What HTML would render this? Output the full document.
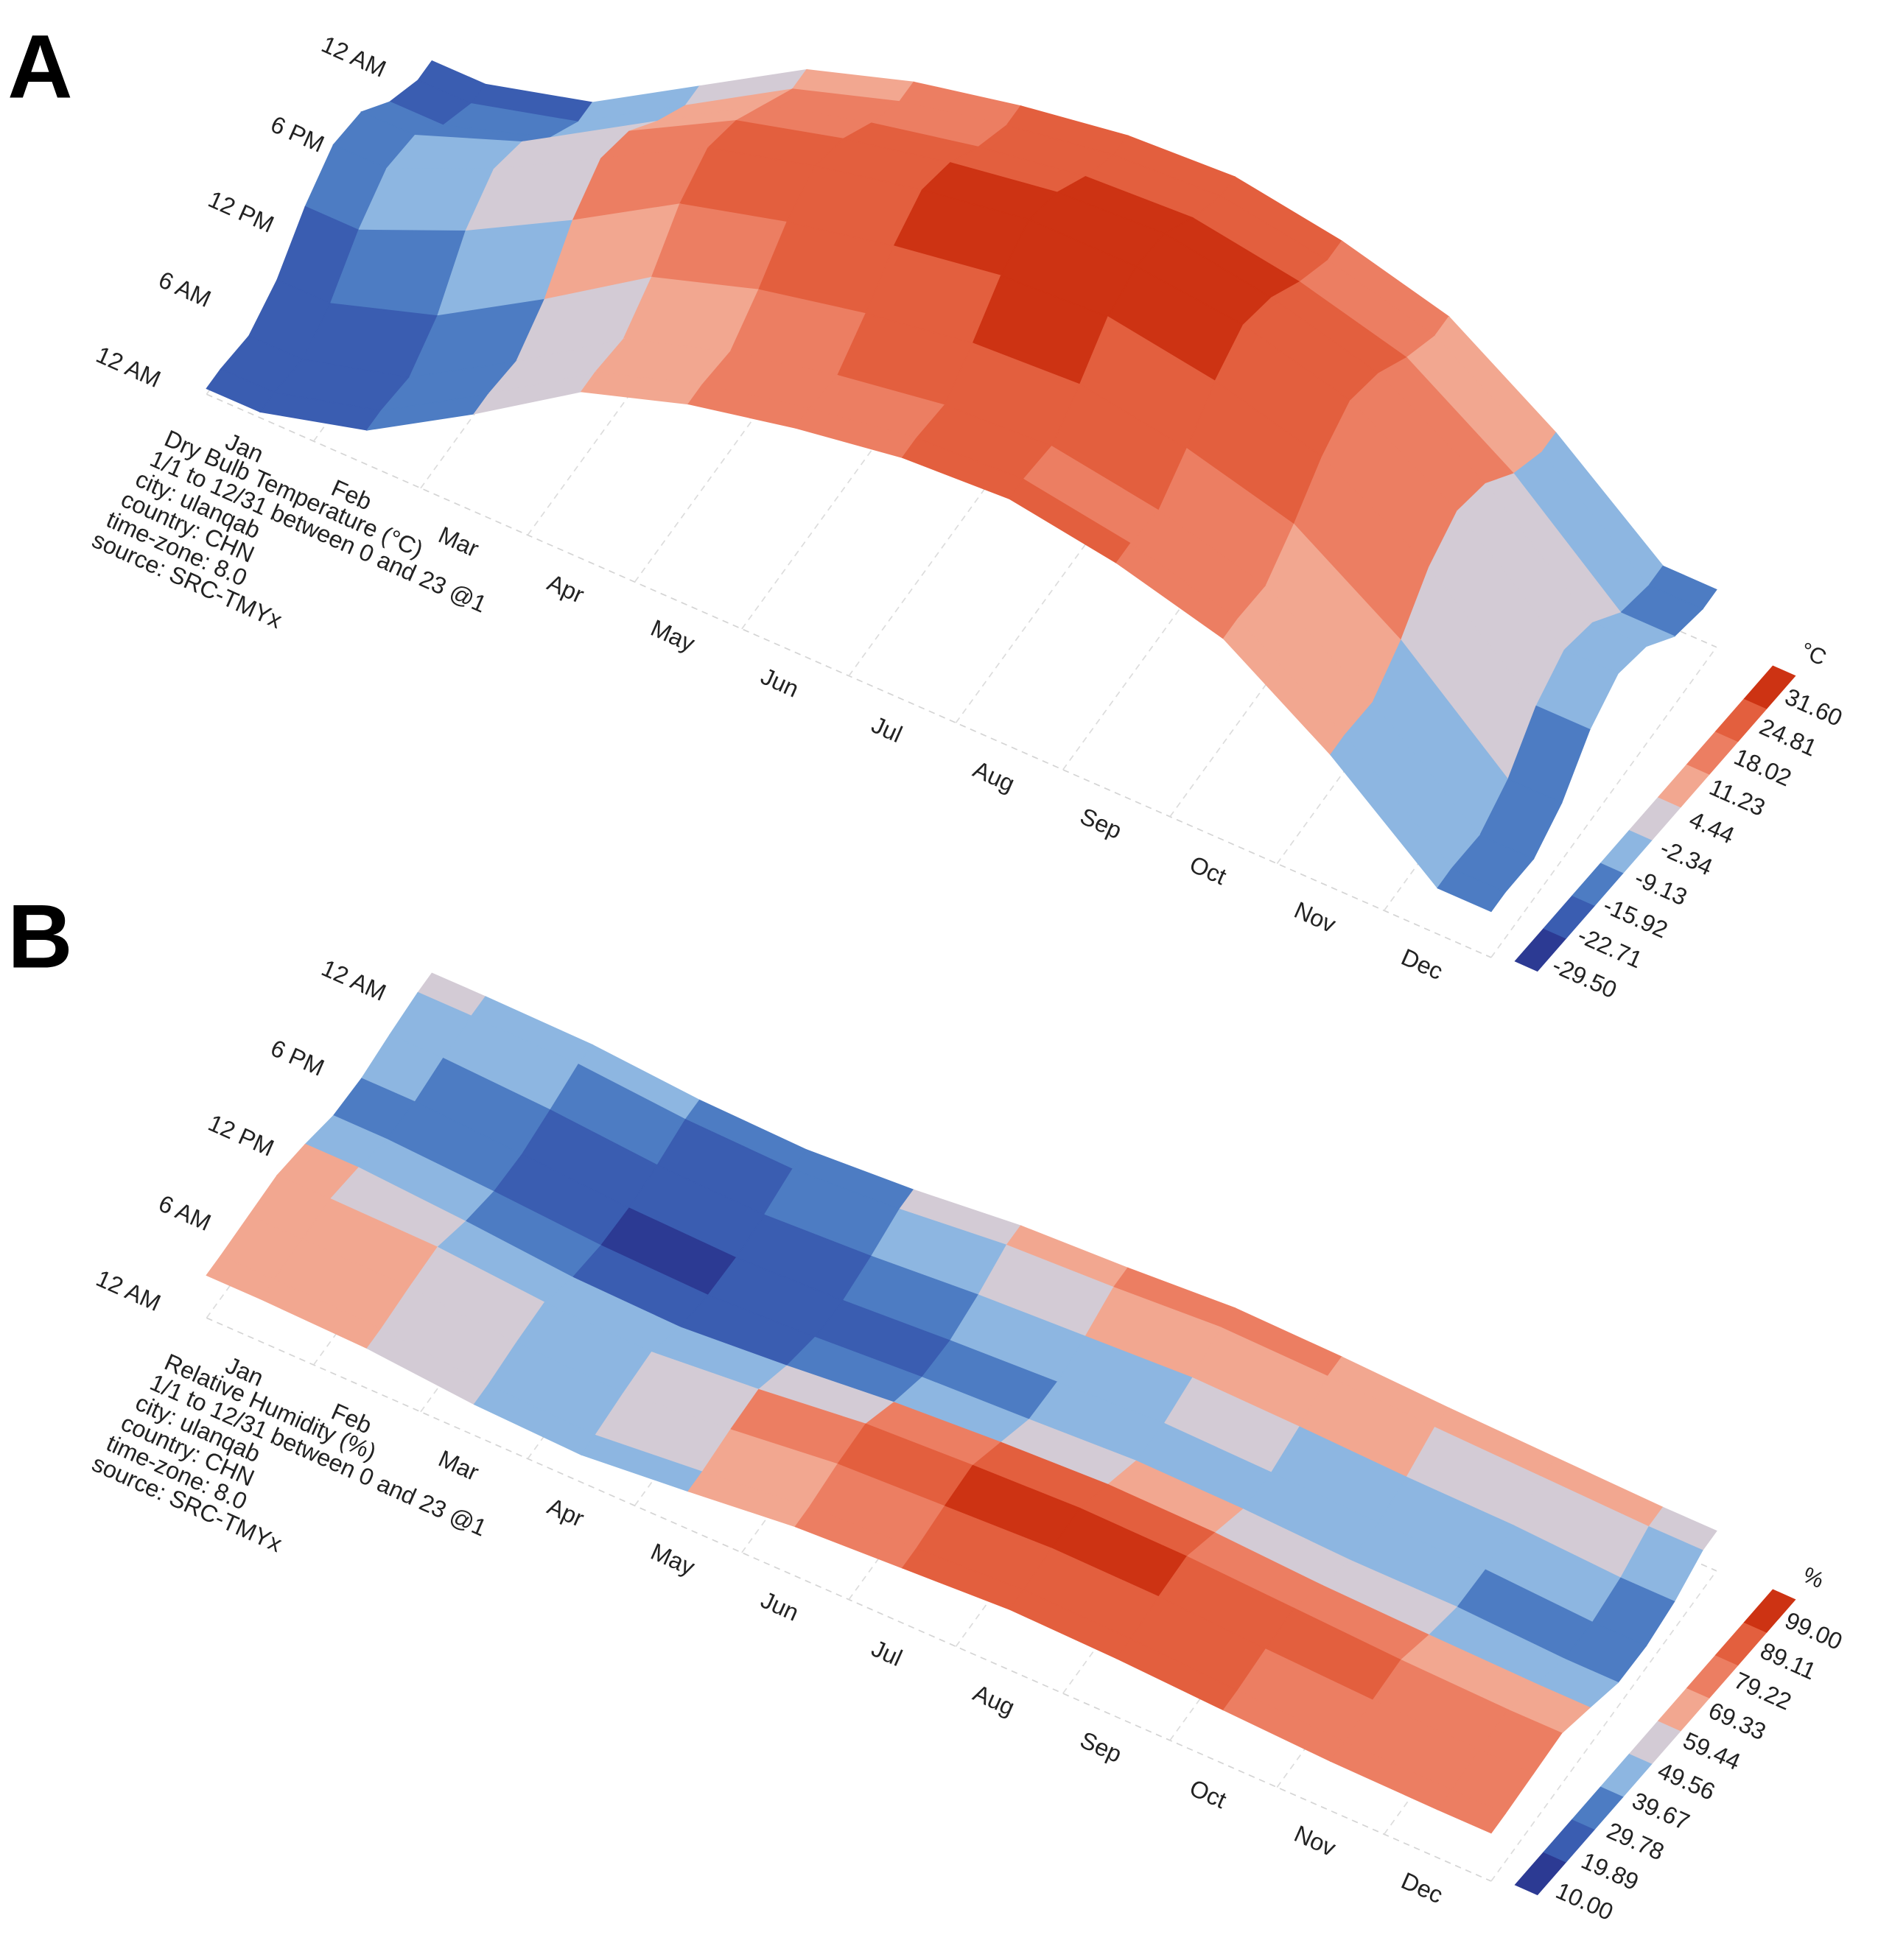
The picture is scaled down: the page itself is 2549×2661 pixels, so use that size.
<!DOCTYPE html>
<html><head><meta charset="utf-8"><title>Ulanqab 3D charts</title>
<style>
html,body{margin:0;padding:0;background:#fff;}
svg{display:block;}
text{font-family:"Liberation Sans",sans-serif;fill:#222;}
</style></head>
<body>
<svg id="chart" width="2549" height="2661" viewBox="0 0 1500 1566" preserveAspectRatio="none" xmlns="http://www.w3.org/2000/svg">
<rect width="1500" height="1566" fill="#fff"/>
<text x="6" y="78" font-size="72" font-weight="bold" style="fill:#000">A</text>
<text x="6" y="773" font-size="72" font-weight="bold" style="fill:#000">B</text>
<g id="panelA"></g>
<g id="panelB"></g>
</svg>
<script>
const months = ["Jan","Feb","Mar","Apr","May","Jun","Jul","Aug","Sep","Oct","Nov","Dec"];
const hourBlocks = [0,3,6,9,12,15,18,21];
const hourTickLabels = ["12 AM","6 AM","12 PM","6 PM","12 AM"];
const hourTickValues = [0,6,12,18,24];
const tempJan=[-22,-23,-20,-14,-10,-11,-16,-19];
const tempFeb=[-17,-18,-14,-6,-2,-4,-10,-14];
const tempMar=[-6,-7,-3,4,8,6,1,-3];
const tempApr=[6,5,9,15,18,16,12,8];
const tempMay=[12,11,15,20,23,21,17,14];
const tempJun=[16,15,19,24,27,25,21,18];
const tempJul=[19,18,22,27,30,28,24,21];
const tempAug=[20,19,23,28,30,29,25,22];
const tempSep=[17,16,20,25,28,26,22,19];
const tempOct=[12,11,15,20,23,21,17,14];
const tempNov=[0,-1,3,9,12,10,5,2];
const tempDec=[-15,-16,-13,-7,-4,-6,-11,-13];
const rhJan=[62,64,66,55,40,38,45,50];
const rhFeb=[58,62,64,45,32,30,38,48];
const rhMar=[45,50,52,32,22,20,26,36];
const rhApr=[40,45,48,28,18,16,22,32];
const rhMay=[55,60,62,40,25,22,30,42];
const rhJun=[72,78,80,55,35,32,42,58];
const rhJul=[80,85,88,65,42,40,50,65];
const rhAug=[88,92,94,72,50,48,58,75];
const rhSep=[85,90,92,70,48,45,55,72];
const rhOct=[78,82,85,62,42,40,50,66];
const rhNov=[72,76,78,58,42,40,48,62];
const rhDec=[70,72,74,55,35,32,40,58];
const tempLegend=["31.60","24.81","18.02","11.23","4.44","-2.34","-9.13","-15.92","-22.71","-29.50"];
const rhLegend=["99.00","89.11","79.22","69.33","59.44","49.56","39.67","29.78","19.89","10.00"];
const infoA=["Dry Bulb Temperature (°C)","1/1 to 12/31 between 0 and 23 @1","city: ulanqab","country: CHN","time-zone: 8.0","source: SRC-TMYx"];
const infoB=["Relative Humidity (%)","1/1 to 12/31 between 0 and 23 @1","city: ulanqab","country: CHN","time-zone: 8.0","source: SRC-TMYx"];
const binColors=["#2c3a93","#3a5db1","#4d7cc3","#8db6e1","#d3cbd5","#f2a790","#ec7e62","#e35f3e","#cd3313"];

const NS="http://www.w3.org/2000/svg";
const MX=85.5, MY=37.5, HX=7.5, HY=-10.33;
function mk(tag,attrs,parent){const e=document.createElementNS(NS,tag);for(const k in attrs)e.setAttribute(k,attrs[k]);parent.appendChild(e);return e;}
function proj(m,h,z,oy){return [165+m*MX+h*HX, 315+oy+m*MY+h*HY-z];}
function colorFor(v,lo,hi){let i=Math.floor((v-lo)/(hi-lo)*9);i=Math.max(0,Math.min(8,i));return binColors[i];}

function drawPanel(g,data,lo,hi,zfn,oy,info,legend,unit,prefix){
  const grid=mk("g",{},g);
  
  
  for(const h of [0,24]){const a=proj(0,h,0,oy),b=proj(12,h,0,oy);mk("line",{x1:a[0],y1:a[1],x2:b[0],y2:b[1],stroke:"#d4d4d4","stroke-width":1,"stroke-dasharray":"5,4"},grid);}
  for(let m=0;m<=12;m++){const a=proj(m,0,0,oy),b=proj(m,24,0,oy);mk("line",{x1:a[0],y1:a[1],x2:b[0],y2:b[1],stroke:"#dcdcdc","stroke-width":1,"stroke-dasharray":"5,4"},grid);}
  const mPos=[0];for(let m=0;m<12;m++)mPos.push(m+0.5);mPos.push(12);
  const hPos=[0];for(let b=0;b<8;b++)hPos.push(hourBlocks[b]+1.5);hPos.push(24);
  const val=(i,j)=>{const mi=Math.max(0,Math.min(11,i-1));const bj=Math.max(0,Math.min(7,j-1));return data[mi][bj];};
  const surf=mk("g",{},g);
  
  
  for(let j=hPos.length-2;j>=0;j--){
    for(let i=0;i<mPos.length-1;i++){
      const v=[val(i,j),val(i+1,j),val(i+1,j+1),val(i,j+1)];
      const p=[proj(mPos[i],hPos[j],zfn(v[0]),oy),proj(mPos[i+1],hPos[j],zfn(v[1]),oy),proj(mPos[i+1],hPos[j+1],zfn(v[2]),oy),proj(mPos[i],hPos[j+1],zfn(v[3]),oy)];
      const avg=(v[0]+v[1]+v[2]+v[3])/4;
      const c=colorFor(avg,lo,hi);
      const poly=mk("polygon",{points:p.map(q=>q[0].toFixed(1)+","+q[1].toFixed(1)).join(" "),fill:c,stroke:c,"stroke-width":0.8},surf);
      
      
    }
  }
  months.forEach((mn,m)=>{const p=proj(m+0.5,0,0,oy);const t=mk("text",{x:p[0]-15,y:p[1]+30,"font-size":19,"text-anchor":"middle",transform:`rotate(24 ${p[0]-15} ${p[1]+30})`},g);t.textContent=mn;
    
    });
  hourTickValues.forEach((h,k)=>{const p=proj(0,h,0,oy);const x=p[0]-65,y=p[1]-16;const t=mk("text",{x:x,y:y,"font-size":19,"text-anchor":"middle",transform:`rotate(24 ${x} ${y})`},g);t.textContent=hourTickLabels[k];
    
    });
  const ig=mk("g",{transform:`translate(130 ${355+oy}) rotate(24)`},g);
  
  
  info.forEach((s,k)=>{const t=mk("text",{x:-4*k,y:k*19.5,"font-size":19},ig);t.textContent=s;});
  const lg=mk("g",{},g);
  
  
  const b0=[1219,772+oy],b1=[1425,536+oy],w=[9,4];
  for(let s=0;s<9;s++){
    const a=[b0[0]+(b1[0]-b0[0])*s/9,b0[1]+(b1[1]-b0[1])*s/9],b=[b0[0]+(b1[0]-b0[0])*(s+1)/9,b0[1]+(b1[1]-b0[1])*(s+1)/9];
    const pts=[[a[0]-w[0],a[1]-w[1]],[a[0]+w[0],a[1]+w[1]],[b[0]+w[0],b[1]+w[1]],[b[0]-w[0],b[1]-w[1]]];
    const r=mk("polygon",{points:pts.map(q=>q.join(",")).join(" "),fill:binColors[s],stroke:binColors[s],"stroke-width":0.5},lg);
    
    
  }
  legend.forEach((s,k)=>{const x=1446+(1263-1446)*k/9,y=571+oy+(787-571)*k/9;const t=mk("text",{x:x,y:y,"font-size":19,"text-anchor":"middle",transform:`rotate(24 ${x} ${y})`},lg);t.textContent=s;
    
    });
  const u=mk("text",{x:1446,y:528+oy,"font-size":18,"text-anchor":"middle",transform:`rotate(24 1446 ${528+oy})`},lg);u.textContent=unit;
  
  
}
const tempData=[tempJan,tempFeb,tempMar,tempApr,tempMay,tempJun,tempJul,tempAug,tempSep,tempOct,tempNov,tempDec];
const rhData=[rhJan,rhFeb,rhMar,rhApr,rhMay,rhJun,rhJul,rhAug,rhSep,rhOct,rhNov,rhDec];
drawPanel(document.getElementById("panelA"),tempData,-29.5,31.6,t=>Math.max(0,(t+23)*4.6),0,infoA,tempLegend,"°C","temp");
drawPanel(document.getElementById("panelB"),rhData,10,99,r=>r*0.55,738,infoB,rhLegend,"%","humidity");
</script>
</body></html>
